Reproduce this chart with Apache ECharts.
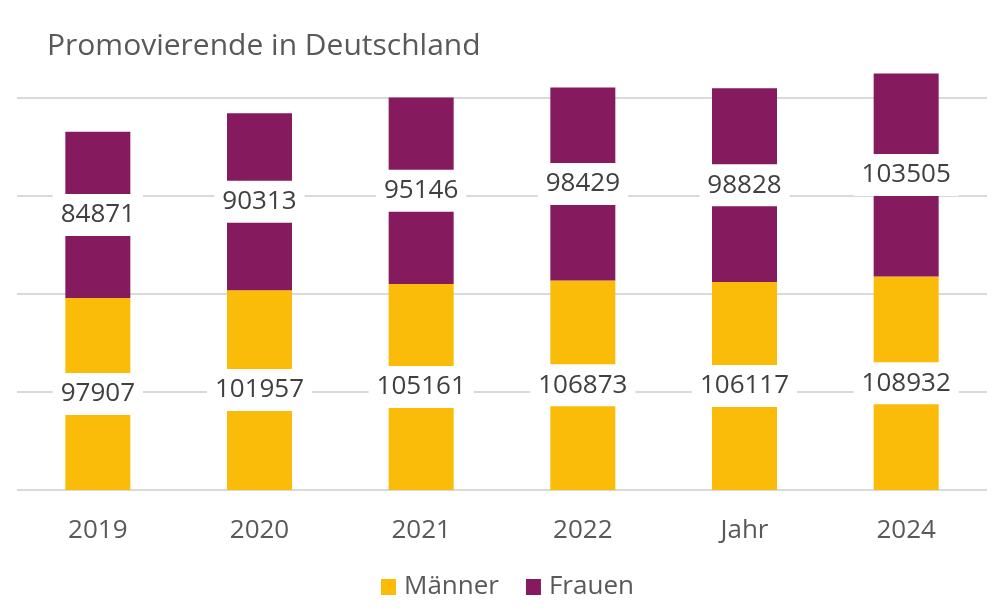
<!DOCTYPE html>
<html>
<head>
<meta charset="utf-8">
<script src="https://cdn.jsdelivr.net/npm/echarts@6/dist/echarts.min.js"></script>
<style>
html, body { margin: 0; padding: 0; background: #fff; }
#chart { width: 1000px; height: 613px; }
</style>
</head>
<body>
<div id="chart"></div>
<script>
/* Daten */
var jahre = ['2019', '2020', '2021', '2022', 'Jahr', '2024'];
var maenner = [97907, 101957, 105161, 106873, 106117, 108932];
var frauen = [84871, 90313, 95146, 98429, 98828, 103505];

var schrift = '"Open Sans", "Noto Sans", sans-serif';

var labelStil = {
    show: true,
    position: 'inside',
    backgroundColor: '#fff',
    padding: [9, 8, 7, 8],
    fontFamily: schrift,
    fontSize: 26,
    color: '#404040'
};

var myChart = echarts.init(document.getElementById('chart'));
var option = {
    animation: false,
    title: {
        text: 'Promovierende in Deutschland',
        left: 42,
        top: 26,
        textStyle: {
            fontFamily: schrift,
            fontSize: 30,
            fontWeight: 'normal',
            color: '#595959'
        }
    },
    legend: {
        data: ['Männer', 'Frauen'],
        bottom: 8,
        left: 376,
        icon: 'rect',
        itemWidth: 15,
        itemHeight: 16,
        itemGap: 27,
        textStyle: {
            fontFamily: schrift,
            fontSize: 26,
            color: '#595959',
            padding: [0, 0, 0, 3]
        }
    },
    grid: {
        left: 17,
        right: 13,
        top: 0,
        bottom: 123
    },
    xAxis: {
        type: 'category',
        data: jahre,
        axisLine: { show: false },
        axisTick: { show: false },
        axisLabel: {
            margin: 28,
            fontFamily: schrift,
            fontSize: 26,
            color: '#595959'
        }
    },
    yAxis: {
        type: 'value',
        min: 0,
        max: 250000,
        interval: 50000,
        axisLabel: { show: false },
        axisLine: { show: false },
        axisTick: { show: false },
        splitLine: {
            showMaxLine: false,
            lineStyle: { color: '#d9d9d9', width: 2 }
        }
    },
    series: [
        {
            name: 'Männer',
            type: 'bar',
            stack: 'gesamt',
            barWidth: 65,
            data: maenner,
            itemStyle: { color: '#fbbc09' },
            label: labelStil
        },
        {
            name: 'Frauen',
            type: 'bar',
            stack: 'gesamt',
            barWidth: 65,
            data: frauen,
            itemStyle: { color: '#861a5f' },
            label: labelStil
        }
    ]
};
myChart.setOption(option);
</script>
</body>
</html>
